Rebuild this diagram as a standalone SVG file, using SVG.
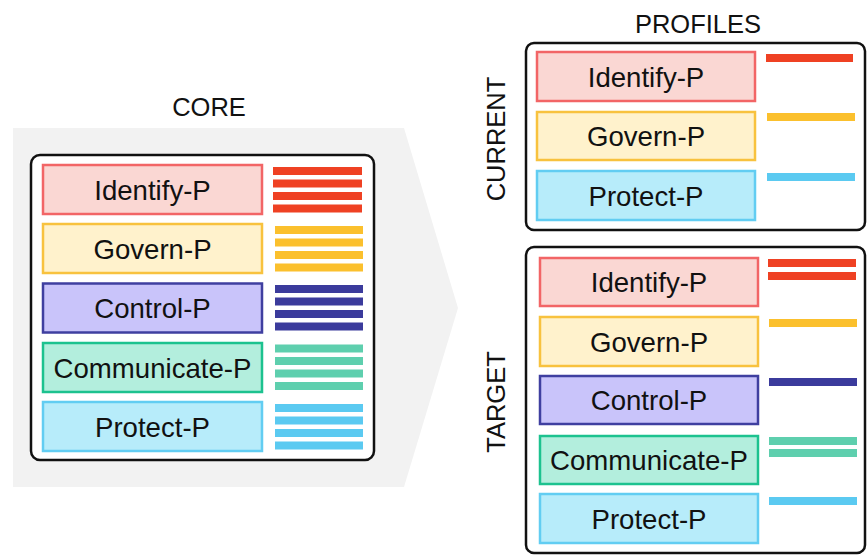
<svg xmlns="http://www.w3.org/2000/svg" width="867" height="555" viewBox="0 0 867 555">
<style>
text{font-family:"Liberation Sans",Arial,sans-serif;fill:#111;}
.lbl{font-size:27.6px;text-anchor:middle;}
.ttl{font-size:25.5px;text-anchor:middle;}
.frame{fill:#fff;stroke:#111;stroke-width:2.5;}
.box{stroke-width:2.5;}
.id{fill:#FAD7D3;stroke:#F26566;}
.gv{fill:#FFF2CC;stroke:#F8C23E;}
.ct{fill:#C9C4FA;stroke:#3F3FA0;}
.cm{fill:#B3EEDD;stroke:#1CC28F;}
.pr{fill:#B7ECFA;stroke:#62CDF2;}
.bid{fill:#EF4123;}
.bgv{fill:#FBC02D;}
.bct{fill:#3B3B9C;}
.bcm{fill:#5ECFAE;}
.bpr{fill:#5BCAF1;}
</style>
<rect width="867" height="555" fill="#fff"/>
<polygon points="13,128 404,128 458,308 404,487 13,487" fill="#F2F2F2"/>
<text class="ttl" x="209" y="116">CORE</text>
<text class="ttl" x="698" y="33">PROFILES</text>
<text class="ttl" transform="translate(505,139) rotate(-90)">CURRENT</text>
<text class="ttl" transform="translate(505,402) rotate(-90)">TARGET</text>

<g id="core">
<rect class="frame" x="31" y="155" width="343" height="305" rx="9"/>
<g id="core-identify"><rect class="box id" x="43" y="165" width="219" height="49"/><text class="lbl" x="152.5" y="199.5">Identify-P</text>
<rect class="bid" x="273" y="167" width="89" height="8"/><rect class="bid" x="273" y="179.5" width="89" height="8"/><rect class="bid" x="273" y="192" width="89" height="8"/><rect class="bid" x="273" y="204.5" width="89" height="8"/></g>
<g id="core-govern"><rect class="box gv" x="43" y="224" width="219" height="49"/><text class="lbl" x="152.5" y="258.5">Govern-P</text>
<rect class="bgv" x="275" y="226" width="88" height="8"/><rect class="bgv" x="275" y="238.5" width="88" height="8"/><rect class="bgv" x="275" y="251" width="88" height="8"/><rect class="bgv" x="275" y="263.5" width="88" height="8"/></g>
<g id="core-control"><rect class="box ct" x="43" y="283.5" width="219" height="49"/><text class="lbl" x="152.5" y="318">Control-P</text>
<rect class="bct" x="275" y="285" width="88" height="8"/><rect class="bct" x="275" y="297.5" width="88" height="8"/><rect class="bct" x="275" y="310" width="88" height="8"/><rect class="bct" x="275" y="322.5" width="88" height="8"/></g>
<g id="core-communicate"><rect class="box cm" x="43" y="343" width="219" height="49"/><text class="lbl" x="152.5" y="377.5">Communicate-P</text>
<rect class="bcm" x="275" y="344.5" width="88" height="8"/><rect class="bcm" x="275" y="357" width="88" height="8"/><rect class="bcm" x="275" y="369.5" width="88" height="8"/><rect class="bcm" x="275" y="382" width="88" height="8"/></g>
<g id="core-protect"><rect class="box pr" x="43" y="402" width="219" height="49"/><text class="lbl" x="152.5" y="436.5">Protect-P</text>
<rect class="bpr" x="275" y="404" width="88" height="8"/><rect class="bpr" x="275" y="416.5" width="88" height="8"/><rect class="bpr" x="275" y="429" width="88" height="8"/><rect class="bpr" x="275" y="441.5" width="88" height="8"/></g>
</g>

<g id="current">
<rect class="frame" x="526" y="43" width="339" height="187" rx="8"/>
<g id="cur-identify"><rect class="box id" x="537" y="52" width="218" height="49"/><text class="lbl" x="646" y="86.5">Identify-P</text>
<rect class="bid" x="766" y="54" width="87" height="8"/></g>
<g id="cur-govern"><rect class="box gv" x="537" y="112" width="218" height="48"/><text class="lbl" x="646" y="146">Govern-P</text>
<rect class="bgv" x="767" y="113" width="88" height="8"/></g>
<g id="cur-protect"><rect class="box pr" x="537" y="171" width="218" height="49"/><text class="lbl" x="646" y="205.5">Protect-P</text>
<rect class="bpr" x="767" y="173" width="88" height="8"/></g>
</g>

<g id="target">
<rect class="frame" x="526" y="247" width="339" height="306" rx="8"/>
<g id="tgt-identify"><rect class="box id" x="540" y="258" width="218" height="48"/><text class="lbl" x="649" y="292">Identify-P</text>
<rect class="bid" x="768" y="259" width="88" height="8"/><rect class="bid" x="768" y="272" width="88" height="8"/></g>
<g id="tgt-govern"><rect class="box gv" x="540" y="317" width="218" height="49"/><text class="lbl" x="649" y="351.5">Govern-P</text>
<rect class="bgv" x="769" y="319" width="88" height="8"/></g>
<g id="tgt-control"><rect class="box ct" x="540" y="376" width="218" height="48"/><text class="lbl" x="649" y="410">Control-P</text>
<rect class="bct" x="769" y="378" width="88" height="8"/></g>
<g id="tgt-communicate"><rect class="box cm" x="540" y="436" width="218" height="48"/><text class="lbl" x="649" y="470">Communicate-P</text>
<rect class="bcm" x="769" y="437" width="88" height="8"/><rect class="bcm" x="769" y="449" width="88" height="8"/></g>
<g id="tgt-protect"><rect class="box pr" x="540" y="494" width="218" height="49"/><text class="lbl" x="649" y="528.5">Protect-P</text>
<rect class="bpr" x="769" y="497" width="88" height="8"/></g>
</g>
<g id="connectors"/>
</svg>
